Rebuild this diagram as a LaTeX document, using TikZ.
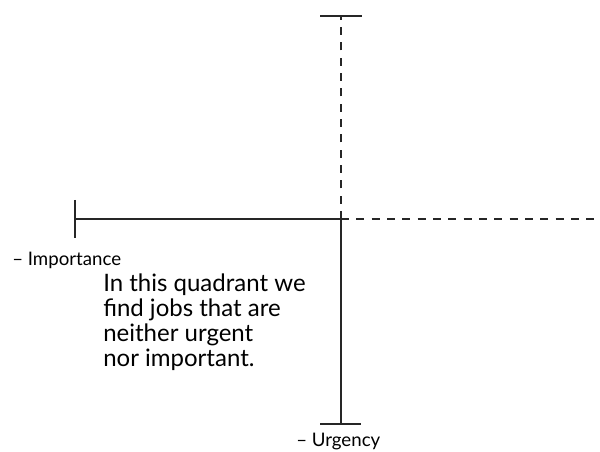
\documentclass[tikz,border=0pt]{standalone}
\usepackage{fontspec}
\setmainfont{Lato}
\begin{document}
\begin{tikzpicture}[x=0.75pt,y=-0.75pt,
  axis/.style={line width=1.3pt, draw=black!85},
  dashaxis/.style={axis, dash pattern=on 6pt off 5.5pt},
  lbl/.style={font=\fontsize{14}{16}\selectfont, inner sep=0pt},
  body/.style={font=\fontsize{18}{18.75}\selectfont, align=left, inner sep=0pt}]
\useasboundingbox (0,0) rectangle (600,452);
\coordinate (O) at (341,219);
\coordinate (L) at (75,219);
\coordinate (R) at (600,219);
\coordinate (T) at (341,16);
\coordinate (B) at (341,424);
\coordinate (Tl) at (320,16);
\coordinate (Tr) at (362,16);
\coordinate (Bl) at (320,424);
\coordinate (Br) at (361,424);
\coordinate (Lt) at (75,200);
\coordinate (Lb) at (75,238);
\draw[axis] (L) -- (O);
\draw[axis] (O) -- (B);
\draw[dashaxis] (O) -- (R);
\draw[dashaxis] (O) -- (T);
\draw[axis] (Tl) -- (Tr);
\draw[axis] (Bl) -- (Br);
\draw[axis] (Lt) -- (Lb);
\node[lbl, anchor=base west] (imp) at (12,266) {– Importance};
\node[lbl, anchor=base west] (urg) at (296,446) {– Urgency};
\node[body, anchor=base west] (txt) at (103,367) {In this quadrant we\\find jobs that are\\neither urgent\\nor important.};
\end{tikzpicture}
\end{document}
